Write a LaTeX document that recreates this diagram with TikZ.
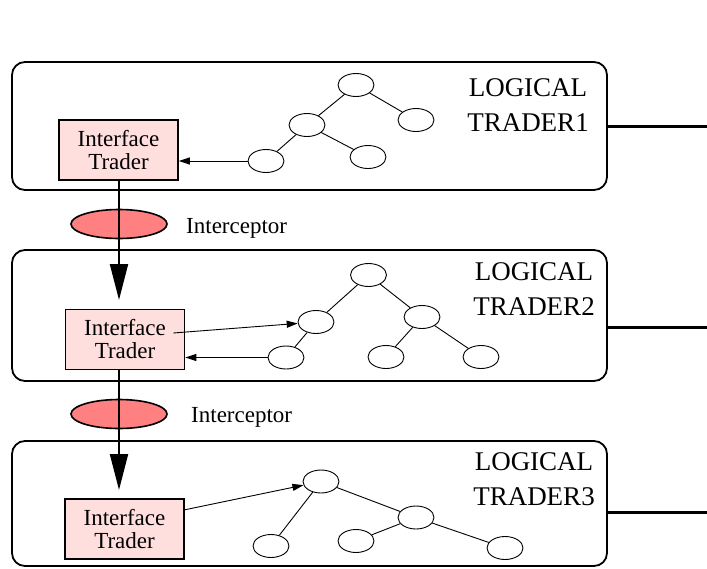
\documentclass[tikz,border=0pt]{standalone}
\usepackage{fontspec}
\setmainfont{Liberation Serif}
\usetikzlibrary{arrows.meta, shapes.geometric}
\definecolor{traderpink}{RGB}{255,222,222}
\definecolor{salmonred}{RGB}{255,128,128}

\begin{document}
\begin{tikzpicture}[x=1pt,y=1pt]
            \tikzstyle{every node}+=[inner sep=0pt]
            \tikzstyle{logbox}=[draw, line width=1.8pt, rounded corners=13pt, minimum width=595pt]
            \tikzstyle{trader}=[draw, line width=1.6pt, fill=traderpink, minimum width=119pt, minimum height=60pt, align=center, font=\fontsize{23}{23}\selectfont]
            \tikzstyle{interceptor}=[ellipse, draw, line width=1.6pt, fill=salmonred, minimum width=96pt, minimum height=29pt]
            \tikzstyle{leaf}=[ellipse, draw, line width=0.9pt, fill=white, minimum width=36pt, minimum height=23pt]
            \tikzstyle{title}=[align=center, font=\fontsize{27}{35}\selectfont]
            \tikzstyle{icname}=[anchor=base west, font=\fontsize{23}{27}\selectfont]
            \tikzstyle{branch}=[line width=0.9pt]
            \tikzstyle{link}=[line width=0.9pt, -{Triangle[length=11pt,width=7pt]}]
            \tikzstyle{flow}=[line width=2pt, -{Triangle[length=36pt,width=18pt]}]
            \tikzstyle{bus}=[line width=3pt]
            \useasboundingbox (0,0) rectangle (707,-568);
            \node [logbox, minimum height=128pt] (lt1) at (309.5,-126) {};
            \node [logbox, minimum height=131pt] (lt2) at (309.5,-315.5) {};
            \node [logbox, minimum height=125pt] (lt3) at (309.5,-503.5) {};
            \node [title] (name1) at (528,-105.5) {LOGICAL\\TRADER1};
            \node [title] (name2) at (534,-289) {LOGICAL\\TRADER2};
            \node [title] (name3) at (534,-479) {LOGICAL\\TRADER3};
            \coordinate (bus1) at (707,-126);
            \coordinate (bus2) at (707,-327);
            \coordinate (bus3) at (707,-512);
            \draw [bus] (lt1.east |- bus1) -- (bus1);
            \draw [bus] (lt2.east |- bus2) -- (bus2);
            \draw [bus] (lt3.east |- bus3) -- (bus3);
            \node [trader] (it1) at (118.5,-150) {Interface\\Trader};
            \node [trader] (it2) at (125,-339.5) {Interface\\Trader};
            \node [trader] (it3) at (124.5,-529) {Interface\\Trader};
            \node [interceptor] (ic1) at (119,-224) {};
            \node [interceptor] (ic2) at (119,-414) {};
            \node [icname] (icn1) at (186,-233) {Interceptor};
            \node [icname] (icn2) at (191,-422) {Interceptor};
            \coordinate (tip2) at (119,-300);
            \coordinate (tip3) at (119,-490);
            \draw [flow] (it1.south -| tip2) -- (tip2);
            \draw [flow] (it2.south -| tip3) -- (tip3);
            % tree of trader 1
            \node [leaf] (t1) at (356,-85) {};
            \node [leaf] (t1l) at (307,-125) {};
            \node [leaf] (t1r) at (416,-120) {};
            \node [leaf] (t1ll) at (266,-161) {};
            \node [leaf] (t1lr) at (368,-157) {};
            \draw [branch] (t1) -- (t1l);
            \draw [branch] (t1) -- (t1r);
            \draw [branch] (t1l) -- (t1ll);
            \draw [branch] (t1l) -- (t1lr);
            \draw [link] (t1ll) -- (t1ll -| it1.east);
            % tree of trader 2
            \node [leaf] (t2) at (368.5,-275) {};
            \node [leaf] (t2l) at (316,-322) {};
            \node [leaf] (t2r) at (422,-317) {};
            \node [leaf] (t2ll) at (286,-357.5) {};
            \node [leaf] (t2rl) at (386,-357) {};
            \node [leaf] (t2rr) at (481,-357) {};
            \draw [branch] (t2) -- (t2l);
            \draw [branch] (t2) -- (t2r);
            \draw [branch] (t2l) -- (t2ll);
            \draw [branch] (t2r) -- (t2rl);
            \draw [branch] (t2r) -- (t2rr);
            \draw [link] ([xshift=-12pt,yshift=6.5pt]it2.east) -- (t2l);
            \draw [link] (t2ll) -- (t2ll -| it2.east);
            % tree of trader 3
            \node [leaf] (t3) at (321,-481.5) {};
            \node [leaf] (t3r) at (416,-517.5) {};
            \node [leaf] (t3ll) at (271,-546) {};
            \node [leaf] (t3m) at (356,-541) {};
            \node [leaf] (t3rr) at (505,-548) {};
            \draw [branch] (t3) -- (t3ll);
            \draw [branch] (t3) -- (t3r);
            \draw [branch] (t3r) -- (t3m);
            \draw [branch] (t3r) -- (t3rr);
            \draw [link] ([xshift=-1pt,yshift=19pt]it3.east) -- (t3);
\end{tikzpicture}
\end{document}
